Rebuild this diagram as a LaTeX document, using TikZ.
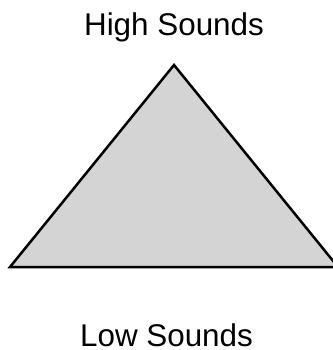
\documentclass[tikz,border=0pt]{standalone}
\usepackage{fontspec}
\setmainfont{Liberation Sans}
\begin{document}
\begin{tikzpicture}[
    x=1pt, y=-1pt,
    tri/.style={draw=black, line width=2.5pt, fill=black!17, line join=miter},
    soundlabel/.style={inner sep=0pt, anchor=base, font=\fontsize{31.4}{36}\selectfont}
]
\useasboundingbox (0,0) rectangle (332,350);

% corners of the triangle
\coordinate (apex)  at (174,65);
\coordinate (left)  at (10,267);
\coordinate (right) at (338,267);

\draw[tri] (apex) -- (left) -- (right) -- cycle;

\node[soundlabel] (high) at (174,36)  {High Sounds};
\node[soundlabel] (low)  at (166.5,346) {Low Sounds};

\end{tikzpicture}
\end{document}
